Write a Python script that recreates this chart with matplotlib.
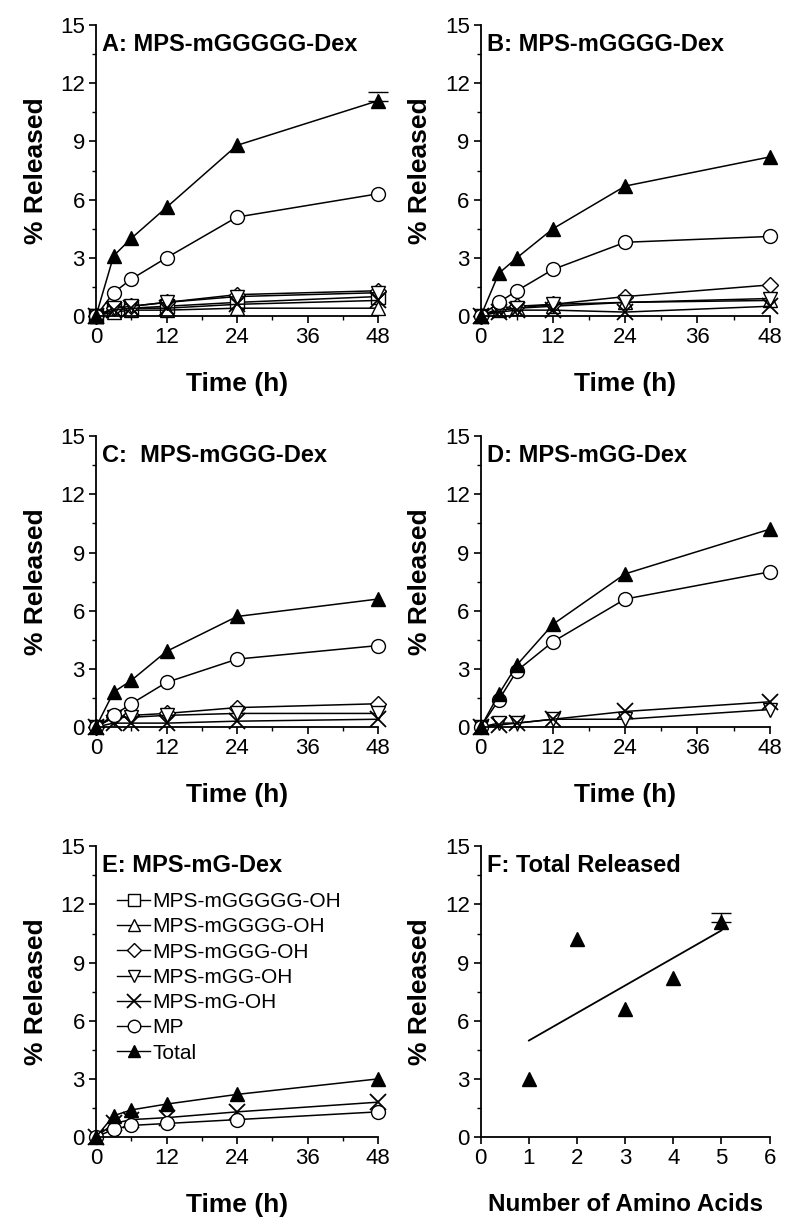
import matplotlib.pyplot as plt
import numpy as np
from matplotlib.ticker import MultipleLocator

plt.rcParams['font.family'] = ['Liberation Sans', 'DejaVu Sans']

t = [0, 3, 6, 12, 24, 48]

# panel A: MPS-mGGGGG-Dex
a_g5 = [0, 0.3, 0.4, 0.5, 0.7, 1.0]
a_g4 = [0, 0.2, 0.3, 0.3, 0.4, 0.4]
a_g3 = [0, 0.4, 0.5, 0.7, 1.1, 1.3]
a_g2 = [0, 0.4, 0.5, 0.7, 1.0, 1.2]
a_g1 = [0, 0.3, 0.4, 0.4, 0.6, 0.8]
a_mp = [0, 1.2, 1.9, 3.0, 5.1, 6.3]
a_tot = [0, 3.1, 4.0, 5.6, 8.8, 11.1]
a_err48 = 0.45

# panel B: MPS-mGGGG-Dex
b_g4 = [0, 0.3, 0.4, 0.5, 0.7, 0.8]
b_g3 = [0, 0.4, 0.5, 0.6, 1.0, 1.6]
b_g2 = [0, 0.3, 0.4, 0.6, 0.7, 0.9]
b_g1 = [0, 0.2, 0.3, 0.3, 0.2, 0.5]
b_mp = [0, 0.7, 1.3, 2.4, 3.8, 4.1]
b_tot = [0, 2.2, 3.0, 4.5, 6.7, 8.2]

# panel C: MPS-mGGG-Dex
c_g3 = [0, 0.5, 0.6, 0.7, 1.0, 1.2]
c_g2 = [0, 0.5, 0.5, 0.6, 0.7, 0.7]
c_g1 = [0, 0.2, 0.2, 0.2, 0.3, 0.4]
c_mp = [0, 0.6, 1.2, 2.3, 3.5, 4.2]
c_tot = [0, 1.8, 2.4, 3.9, 5.7, 6.6]

# panel D: MPS-mGG-Dex
d_g2 = [0, 0.2, 0.2, 0.4, 0.4, 0.9]
d_g1 = [0, 0.1, 0.2, 0.4, 0.8, 1.3]
d_mp = [0, 1.4, 2.9, 4.4, 6.6, 8.0]
d_tot = [0, 1.7, 3.2, 5.3, 7.9, 10.2]

# panel E: MPS-mG-Dex
e_g1 = [0, 0.7, 0.9, 1.0, 1.3, 1.8]
e_mp = [0, 0.4, 0.6, 0.7, 0.9, 1.3]
e_tot = [0, 1.1, 1.4, 1.7, 2.2, 3.0]

# panel F: total released at 48 h
n_aa = [1, 2, 3, 4, 5]
f_tot = [3.0, 10.2, 6.6, 8.2, 11.1]

labels = ['MPS-mGGGGG-OH', 'MPS-mGGGG-OH', 'MPS-mGGG-OH', 'MPS-mGG-OH',
          'MPS-mG-OH', 'MP', 'Total']
styles = {
    'MPS-mGGGGG-OH': dict(marker='s', mfc='white'),
    'MPS-mGGGG-OH': dict(marker='^', mfc='white'),
    'MPS-mGGG-OH': dict(marker='D', mfc='white', ms=8),
    'MPS-mGG-OH': dict(marker='v', mfc='white'),
    'MPS-mG-OH': dict(marker='x', mew=1.3, ms=11),
    'MP': dict(marker='o', mfc='white'),
    'Total': dict(marker='^', mfc='black'),
}


def draw(ax, series, title):
    for name, y in series:
        st = dict(color='black', mec='black', ms=10, lw=1.1, mew=1.0)
        st.update(styles[name])
        ax.plot(t, y, label=name, **st)
    ax.set_xlim(0, 48)
    ax.set_xticks([0, 12, 24, 36, 48])
    ax.xaxis.set_minor_locator(MultipleLocator(6))
    ax.set_xlabel('Time (h)', fontsize=19, fontweight='bold', labelpad=17)
    ax.text(1.0, 14.6, title, fontsize=17, fontweight='bold', va='top', ha='left')


def style(ax):
    ax.set_ylim(0, 15)
    ax.set_yticks([0, 3, 6, 9, 12, 15])
    ax.yaxis.set_minor_locator(MultipleLocator(1.5))
    ax.spines['top'].set_visible(False)
    ax.spines['right'].set_visible(False)
    for s in ['left', 'bottom']:
        ax.spines[s].set_linewidth(1.3)
    ax.tick_params(which='major', length=5, width=1.2, labelsize=16, pad=3)
    ax.tick_params(which='minor', length=3, width=1.0)
    ax.set_ylabel('% Released', fontsize=19, fontweight='bold', labelpad=9)


fig = plt.figure(figsize=(8, 12.27), dpi=100)
lefts = [0.12, 0.601]
bottoms = [0.7425, 0.4075, 0.0733]
w, h = 0.3525, 0.237

axA = fig.add_axes([lefts[0], bottoms[0], w, h])
axB = fig.add_axes([lefts[1], bottoms[0], 0.361, h])
axC = fig.add_axes([lefts[0], bottoms[1], w, h])
axD = fig.add_axes([lefts[1], bottoms[1], 0.361, h])
axE = fig.add_axes([lefts[0], bottoms[2], w, h])
axF = fig.add_axes([lefts[1], bottoms[2], 0.361, h])

draw(axA, [('MPS-mGGGGG-OH', a_g5), ('MPS-mGGGG-OH', a_g4), ('MPS-mGGG-OH', a_g3),
           ('MPS-mGG-OH', a_g2), ('MPS-mG-OH', a_g1), ('MP', a_mp), ('Total', a_tot)],
     'A: MPS-mGGGGG-Dex')
axA.errorbar([t[-1]], [a_tot[-1]], yerr=[[0], [a_err48]], fmt='none', ecolor='black',
             capsize=7, elinewidth=1.0, capthick=1.0)

draw(axB, [('MPS-mGGGG-OH', b_g4), ('MPS-mGGG-OH', b_g3), ('MPS-mGG-OH', b_g2),
           ('MPS-mG-OH', b_g1), ('MP', b_mp), ('Total', b_tot)],
     'B: MPS-mGGGG-Dex')

draw(axC, [('MPS-mGGG-OH', c_g3), ('MPS-mGG-OH', c_g2), ('MPS-mG-OH', c_g1),
           ('MP', c_mp), ('Total', c_tot)],
     'C:  MPS-mGGG-Dex')

draw(axD, [('MPS-mGG-OH', d_g2), ('MPS-mG-OH', d_g1), ('MP', d_mp), ('Total', d_tot)],
     'D: MPS-mGG-Dex')

draw(axE, [('MPS-mG-OH', e_g1), ('MP', e_mp), ('Total', e_tot)],
     'E: MPS-mG-Dex')

# legend for panel E shows all species
handles = []
for name in labels:
    st = dict(color='black', mec='black', ms=9, lw=1.0, mew=1.0)
    st.update(styles[name])
    if name == 'MPS-mGGG-OH':
        st['ms'] = 7
    if name == 'MPS-mG-OH':
        st['ms'] = 10
    handles.append(plt.Line2D([], [], **st))
axE.legend(handles, labels, loc='upper left', bbox_to_anchor=(0.075, 0.842),
           frameon=False, fontsize=15, handlelength=1.6, handletextpad=0.1,
           labelspacing=0.3, borderaxespad=0, borderpad=0)

# panel F
axF.plot(n_aa, f_tot, '^', color='black', ms=10.5)
axF.errorbar([n_aa[-1]], [f_tot[-1]], yerr=[[0], [a_err48]], fmt='none', ecolor='black',
             capsize=7, elinewidth=1.0, capthick=1.0)
p = np.polyfit(n_aa, f_tot, 1)
xf = np.array([1, 5])
axF.plot(xf, np.polyval(p, xf), color='black', lw=1.3)
axF.set_xlim(0, 6)
axF.set_xticks([0, 1, 2, 3, 4, 5, 6])
axF.set_xlabel('Number of Amino Acids', fontsize=17.5, fontweight='bold', labelpad=17)
axF.text(0.12, 14.6, 'F: Total Released', fontsize=17, fontweight='bold', va='top', ha='left')

for ax in [axA, axB, axC, axD, axE, axF]:
    style(ax)
    for ln in ax.lines:
        ln.set_clip_on(False)

fig.savefig('out.png', dpi=100)
